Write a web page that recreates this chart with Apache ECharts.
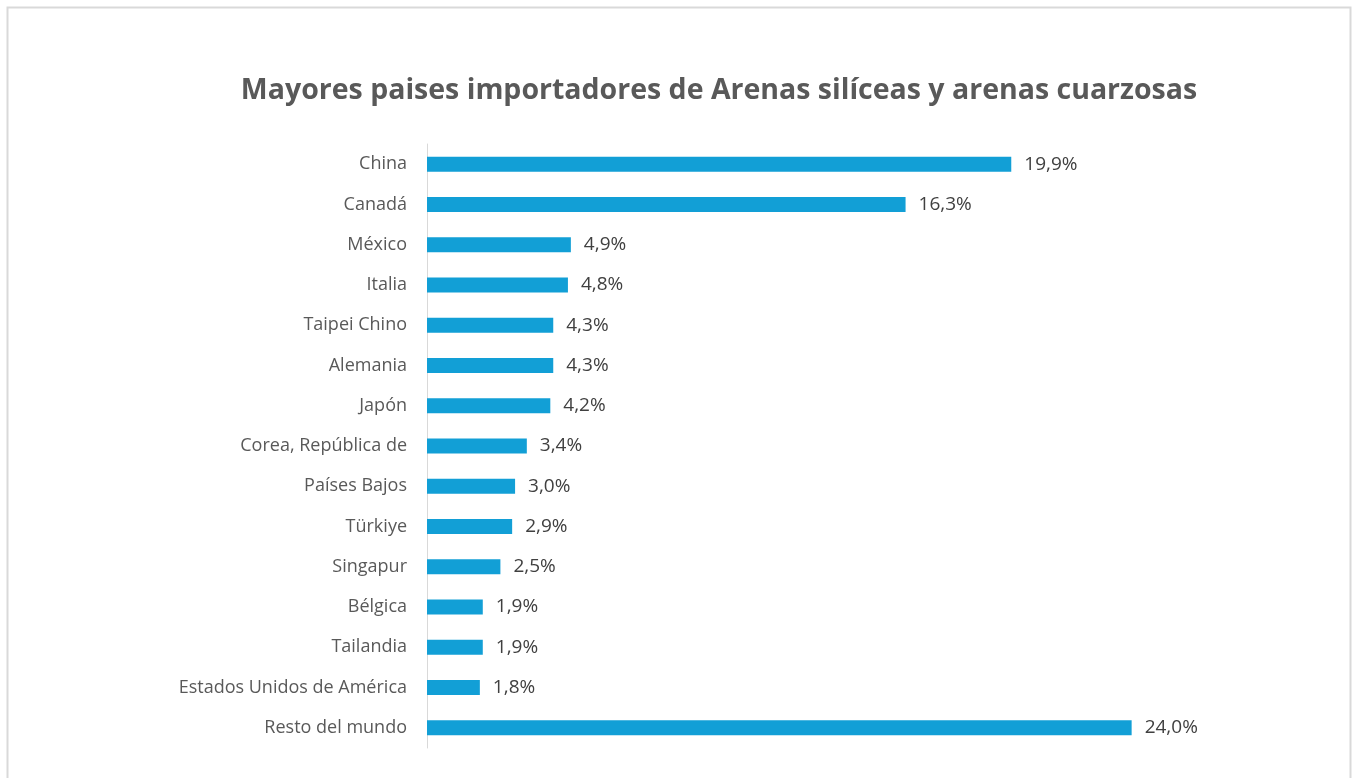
<html lang="es">
<head>
    <meta charset="UTF-8">
    <script src="https://cdn.jsdelivr.net/npm/echarts@6/dist/echarts.min.js"></script>
    <title>Arenas silíceas</title>
    <style>
      html, body { margin: 0; padding: 0; background: #fff; }
    </style>
</head>
<body>

<div id="main" style="width: 1354px;height:778px;"></div>

<script>
  // countries, top to bottom
  var paises = ['China', 'Canadá', 'México', 'Italia', 'Taipei Chino', 'Alemania', 'Japón',
    'Corea, República de', 'Países Bajos', 'Türkiye', 'Singapur', 'Bélgica', 'Tailandia',
    'Estados Unidos de América', 'Resto del mundo'];
  // share of imports, %
  var participacion = [19.9, 16.3, 4.9, 4.8, 4.3, 4.3, 4.2, 3.4, 3.0, 2.9, 2.5, 1.9, 1.9, 1.8, 24.0];

  var myChart = echarts.init(document.getElementById('main'));

  var option = {
    backgroundColor: '#fff',
    textStyle: { fontFamily: '"Open Sans", sans-serif' },
    title: {
      text: 'Mayores paises importadores de Arenas silíceas y arenas cuarzosas',
      left: 714,
      textAlign: 'center',
      top: 71,
      textStyle: { fontFamily: '"Open Sans"', fontSize: 28.5, fontWeight: 'bold', color: '#595959' }
    },
    graphic: [{
      type: 'rect',
      shape: { x: 7.5, y: 7.5, width: 1343, height: 800 },
      style: { fill: 'none', stroke: '#d9d9d9', lineWidth: 2 },
      silent: true
    }],
    grid: { left: 427, right: 193, top: 144, bottom: 30 },
    xAxis: {
      type: 'value',
      min: 0,
      max: 25,
      show: false
    },
    yAxis: {
      type: 'category',
      inverse: true,
      data: paises,
      axisLine: { show: true, lineStyle: { color: '#d9d9d9', width: 1 } },
      axisTick: { show: false },
      axisLabel: { margin: 20, fontSize: 18, color: '#595959', fontFamily: '"Open Sans"' }
    },
    series: [{
      type: 'bar',
      data: participacion,
      barWidth: 15,
      itemStyle: { color: '#129fd6' },
      label: {
        show: true,
        position: 'right',
        distance: 13,
        fontSize: 19,
        color: '#404040',
        fontFamily: '"Open Sans"',
        formatter: function (p) { return p.value.toFixed(1).replace('.', ',') + '%'; }
      }
    }]
  };

  myChart.setOption(option);
</script>

</body>
</html>
